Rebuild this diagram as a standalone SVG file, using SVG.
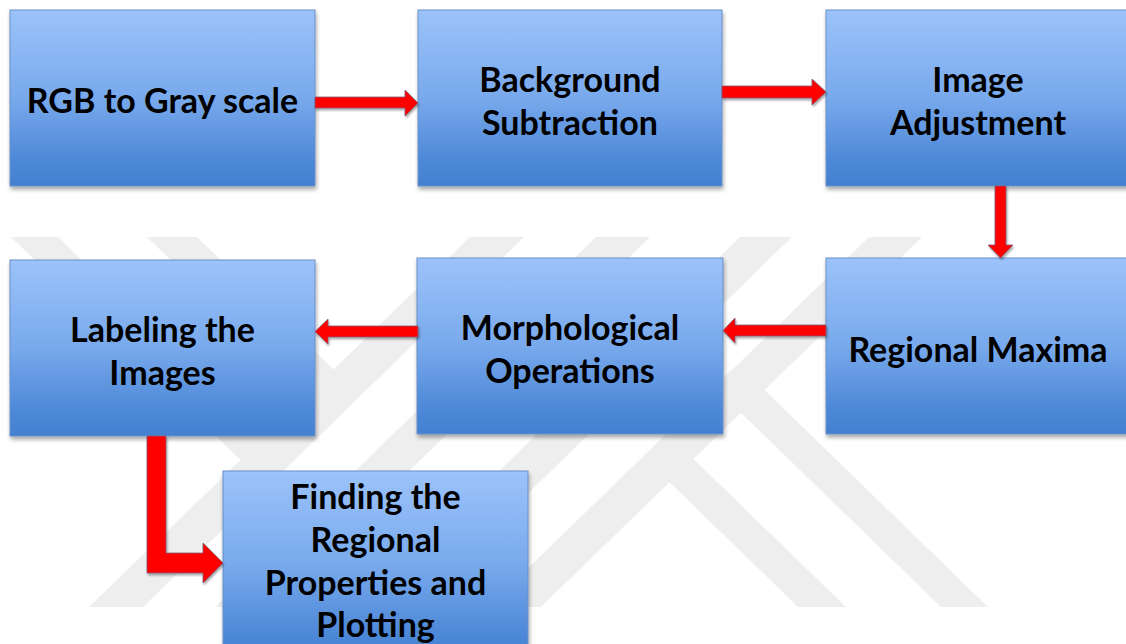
<svg xmlns="http://www.w3.org/2000/svg" width="1126" height="644" viewBox="0 0 1126 644">
  <defs>
    <linearGradient id="boxFill" x1="0" y1="0" x2="0" y2="1">
      <stop offset="0" stop-color="#9cc3fa"/>
      <stop offset="0.5" stop-color="#78a9ec"/>
      <stop offset="0.85" stop-color="#4e89d8"/>
      <stop offset="1" stop-color="#4480d0"/>
    </linearGradient>
    <filter id="boxShadow" x="-5%" y="-5%" width="115%" height="120%">
      <feGaussianBlur in="SourceAlpha" stdDeviation="2"/>
      <feOffset dx="1" dy="3" result="blur"/>
      <feComponentTransfer><feFuncA type="linear" slope="0.35"/></feComponentTransfer>
      <feMerge><feMergeNode/><feMergeNode in="SourceGraphic"/></feMerge>
    </filter>
    <filter id="arrowShadow" x="-10%" y="-20%" width="130%" height="150%">
      <feGaussianBlur in="SourceAlpha" stdDeviation="1.2"/>
      <feOffset dx="1" dy="2"/>
      <feComponentTransfer><feFuncA type="linear" slope="0.35"/></feComponentTransfer>
      <feMerge><feMergeNode/><feMergeNode in="SourceGraphic"/></feMerge>
    </filter>
  </defs>
  <style>
    .wm { fill: #eeeeee; }
    .box { fill: url(#boxFill); stroke: #6a8fc8; stroke-width: 1; filter: url(#boxShadow); }
    .arrow { fill: #ff0000; stroke: #7d5a7a; stroke-width: 0.8; stroke-linejoin: miter; filter: url(#arrowShadow); }
    .label { font-family: Lato, "Liberation Sans", sans-serif; font-weight: 700; font-size: 34px; fill: #000000; text-anchor: middle; }
  </style>

  <rect width="1126" height="644" fill="#ffffff"/>

  <!-- faint background emblem -->
  <g id="watermark">
    <polygon class="wm" points="470,237 524,237 143,607 89,607"/>
    <polygon class="wm" points="596,237 650,237 269,607 215,607"/>
    <polygon class="wm" points="740,237 792,237 411,607 359,607"/>
    <polygon class="wm" points="869,237 922,237 541,607 488,607"/>
    <polygon class="wm" points="11,237 58,237 291,463 267.5,486"/>
    <polygon class="wm" points="147,237 197,237 360.5,395.7 335.5,420"/>
    <polygon class="wm" points="941,607 988,607 737.9,364.2 714.4,387"/>
    <polygon class="wm" points="798,607 846,607 667,433.2 643,456.5"/>
  </g>

  <!-- process steps -->
  <g id="node-rgb">
    <rect class="box" x="10" y="10" width="305" height="176"/>
    <text class="label" x="162.5" y="113">RGB to Gray scale</text>
  </g>
  <g id="node-background">
    <rect class="box" x="418" y="10" width="304" height="176"/>
    <text class="label" x="570" y="92">Background</text>
    <text class="label" x="570" y="135">Subtraction</text>
  </g>
  <g id="node-adjustment">
    <rect class="box" x="826" y="10" width="310" height="176"/>
    <text class="label" x="978" y="92">Image</text>
    <text class="label" x="978" y="135">Adjustment</text>
  </g>
  <g id="node-maxima">
    <rect class="box" x="826" y="258" width="310" height="176"/>
    <text class="label" x="978" y="362">Regional Maxima</text>
  </g>
  <g id="node-morphology">
    <rect class="box" x="417" y="258" width="306" height="176"/>
    <text class="label" x="570" y="340">Morphological</text>
    <text class="label" x="570" y="383">Operations</text>
  </g>
  <g id="node-labeling">
    <rect class="box" x="10" y="260" width="305" height="176"/>
    <text class="label" x="162.5" y="342">Labeling the</text>
    <text class="label" x="162.5" y="385">Images</text>
  </g>
  <g id="node-properties">
    <rect class="box" x="223" y="471" width="305" height="190"/>
    <text class="label" x="375.5" y="509">Finding the</text>
    <text class="label" x="375.5" y="552">Regional</text>
    <text class="label" x="375.5" y="595">Properties and</text>
    <text class="label" x="375.5" y="637">Plotting</text>
  </g>

  <!-- connectors -->
  <g id="connectors">
    <polygon class="arrow" points="315,97 405,97 405,90 418,103 405,116 405,108 315,108"/>
    <polygon class="arrow" points="722,86 812,86 812,79 826,92 812,105 812,98 722,98"/>
    <polygon class="arrow" points="995,186 1006,186 1006,245 1013,245 1000.5,258 988,245 995,245"/>
    <polygon class="arrow" points="826,325 735,325 735,318 723,330.5 735,343 735,336 826,336"/>
    <polygon class="arrow" points="418,326 328,326 328,319 315,331.5 328,344 328,337 418,337"/>
    <polygon class="arrow" points="147,436 166,436 166,553 203,553 203,543 223,563 203,583 203,573 147,573"/>
  </g>
</svg>
